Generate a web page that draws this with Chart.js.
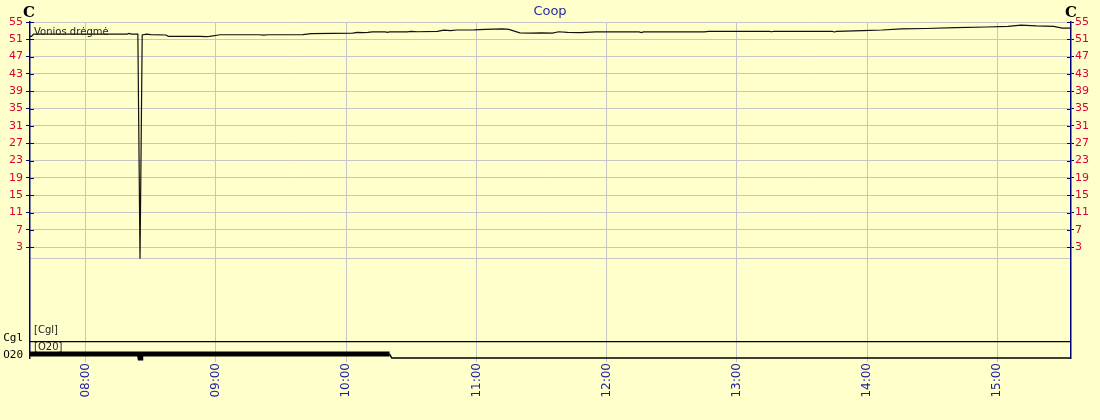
<!DOCTYPE html>
<html lang="lt">
<head>
<meta charset="UTF-8">
<title>Coop</title>
<script src="https://cdn.jsdelivr.net/npm/chart.js"></script>
<style>
  html, body { margin: 0; padding: 0; background: #ffffcc; }
</style>
</head>
<body>
<canvas id="chart" width="1100" height="420"></canvas>
<script>
// main humidity series (time of day, %)
var times = ['07:34','07:35','07:36','08:19','08:20','08:21','08:24','08:25','08:26','08:28','08:30','08:37','08:38',
  '08:53','08:55','08:57','09:02','09:20','09:22','09:24','09:40','09:44','10:03','10:05','10:08','10:10','10:12',
  '10:18','10:19','10:20','10:28','10:30','10:33','10:42','10:45','10:48','10:51','10:59','11:04','11:12','11:15',
  '11:20','11:25','11:30','11:35','11:38','11:42','11:48','11:55','12:15','12:16','12:17','12:45','12:47','13:15',
  '13:16','13:17','13:44','13:45','13:46','13:58','14:07','14:16','14:27','14:41','14:55','15:05','15:11','15:18',
  '15:26','15:30','15:35'];
var humidity = [51.7,51.7,52.2,52.2,52.35,52.2,52.2,0.3,52.0,52.2,52.1,52.0,51.7,
  51.7,51.6,51.7,52.05,52.05,51.95,52.05,52.1,52.3,52.45,52.6,52.55,52.6,52.7,
  52.7,52.6,52.7,52.7,52.85,52.75,52.85,53.1,53.0,53.15,53.2,53.3,53.4,53.3,
  52.5,52.45,52.5,52.45,52.75,52.6,52.55,52.7,52.7,52.55,52.7,52.7,52.85,52.85,
  52.75,52.85,52.85,52.7,52.85,53.0,53.15,53.4,53.5,53.7,53.85,54.0,54.3,54.1,
  54.0,53.6,53.6];
var seriesName = 'Vonios drėgmė';

// digital channels (1 = on, 0 = off)
var laneNames = ['Cgl', 'O20'];
var cglTimes = ['07:34', '15:35'];
var cglState = [0, 0];
var o20Times = ['07:34', '08:24:40', '08:25', '08:25:20', '10:20', '10:21', '15:35'];
var o20State = [1, 1, 0, 1, 1, 0, 0];

var hourTicks = ['08:00','09:00','10:00','11:00','12:00','13:00','14:00','15:00'];
var yTicks = [55, 51, 47, 43, 39, 35, 31, 27, 23, 19, 15, 11, 7, 3];

function toMin(s) {
  var p = s.split(':');
  return +p[0] * 60 + +p[1] + (p[2] ? +p[2] / 60 : 0);
}
function fmt(m) {
  var h = Math.floor(m / 60), mm = Math.round(m % 60);
  return (h < 10 ? '0' : '') + h + ':' + (mm < 10 ? '0' : '') + mm;
}

// lanes live under the humidity range on the same axis
var Y_MIN = -22.6, Y_MAX = 55, SEP = 0.4;
var laneBase = { Cgl: -18.8, O20: -22.6 };
var laneOn = 0.9;
var laneLabelAt = { Cgl: -18.1, O20: -21.9 };

function lanePoints(ts, st, name) {
  return ts.map(function (t, i) {
    return { x: toMin(t), y: laneBase[name] + (st[i] ? laneOn : 0) };
  });
}
function laneTick(v) {
  for (var k in laneLabelAt) if (Math.abs(laneLabelAt[k] - v) < 1e-6) return k;
  return null;
}
function tickVal(c) { return c && c.tick ? c.tick.value : null; }

// "on" stretches are drawn thick; a lone off sample inside an on stretch stays thick (a notch)
function o20Thick(i0, i1) {
  var a = o20State[i0], b = o20State[i1];
  if (a && b) return true;
  if (!a && !b) return false;
  var off = a ? i1 : i0;
  return !!(o20State[off - 1] && o20State[off + 1]);
}

var RED = '#dc0034', NAVY = '#000080', GRID = '#c6c6c6';

var decor = {
  id: 'decor',
  beforeDraw: function (chart) {
    var c = chart.ctx;
    c.save();
    c.fillStyle = '#ffffcc';
    c.fillRect(0, 0, chart.width, chart.height);
    c.restore();
  },
  afterDraw: function (chart) {
    var c = chart.ctx, a = chart.chartArea, y = chart.scales.y;
    c.save();
    // short inward tick marks
    c.strokeStyle = NAVY;
    c.lineWidth = 1;
    yTicks.forEach(function (v) {
      var py = Math.round(y.getPixelForValue(v)) + 0.5;
      c.beginPath();
      c.moveTo(a.left, py); c.lineTo(a.left + 4, py);
      c.moveTo(a.right - 4, py); c.lineTo(a.right, py);
      c.stroke();
    });
    c.fillStyle = '#000';
    c.font = 'bold 15px "DejaVu Serif"';
    c.textAlign = 'center';
    c.textBaseline = 'middle';
    c.fillText('C', a.left - 1, 13);
    c.fillText('C', a.right, 13);
    c.font = '10px "DejaVu Sans"';
    c.textAlign = 'left';
    c.fillStyle = '#222';
    c.fillText(seriesName, a.left + 4, a.top + 10);
    c.fillText('[' + laneNames[0] + ']', a.left + 4, y.getPixelForValue(laneBase.Cgl) - 11);
    c.fillText('[' + laneNames[1] + ']', a.left + 4, y.getPixelForValue(laneBase.O20 + laneOn) - 7);
    c.restore();
  }
};

var ctx = document.getElementById('chart').getContext('2d');
new Chart(ctx, {
  type: 'line',
  data: {
    datasets: [{
      label: seriesName,
      data: times.map(function (t, i) { return { x: toMin(t), y: humidity[i] }; }),
      borderColor: '#111',
      borderWidth: 1.2,
      pointRadius: 0
    }, {
      label: laneNames[0],
      data: lanePoints(cglTimes, cglState, 'Cgl'),
      borderColor: '#000',
      borderWidth: 1.3,
      pointRadius: 0,
      clip: { left: 0, top: 0, right: 0, bottom: 4 }
    }, {
      label: laneNames[1],
      data: lanePoints(o20Times, o20State, 'O20'),
      borderColor: '#000',
      borderWidth: 1.5,
      pointRadius: 0,
      borderCapStyle: 'butt',
      clip: { left: 0, top: 0, right: 0, bottom: 4 },
      segment: {
        borderWidth: function (s) { return o20Thick(s.p0DataIndex, s.p1DataIndex) ? 5 : 1.5; }
      }
    }]
  },
  options: {
    responsive: false,
    animation: false,
    devicePixelRatio: 1,
    layout: { padding: 0 },
    plugins: {
      legend: { display: false },
      tooltip: { enabled: false },
      title: {
        display: true,
        text: 'Coop',
        color: '#2a2aa0',
        font: { family: 'DejaVu Sans', size: 13, weight: 'normal' },
        padding: { top: 4, bottom: 2.4 }
      }
    },
    scales: {
      x: {
        type: 'linear',
        min: 454.3,
        max: 934,
        afterBuildTicks: function (s) { s.ticks = hourTicks.map(function (t) { return { value: toMin(t) }; }); },
        afterFit: function (s) { s.height = 62; },
        ticks: {
          callback: function (v) { return fmt(v); },
          color: '#1c1ca0',
          font: { family: 'DejaVu Sans', size: 12 },
          minRotation: 90,
          maxRotation: 90,
          autoSkip: false,
          padding: 1
        },
        grid: { color: GRID, tickColor: GRID, tickLength: 4 },
        border: { display: false }
      },
      y: {
        position: 'left',
        min: Y_MIN,
        max: Y_MAX,
        afterBuildTicks: function (s) {
          var t = yTicks.map(function (v) { return { value: v }; });
          t.push({ value: SEP });
          t.push({ value: laneLabelAt.Cgl }, { value: laneLabelAt.O20 });
          s.ticks = t;
        },
        afterFit: function (s) { s.width = 30; },
        ticks: {
          autoSkip: false,
          padding: 3,
          callback: function (v) {
            var l = laneTick(v);
            if (l) return l;
            return yTicks.indexOf(v) >= 0 ? String(v) : '';
          },
          color: function (c) { return laneTick(tickVal(c)) ? '#000' : RED; },
          font: function (c) {
            return laneTick(tickVal(c)) ? { family: 'DejaVu Sans Mono', size: 11 } : { family: 'DejaVu Sans', size: 11 };
          }
        },
        grid: {
          color: function (c) { return laneTick(tickVal(c)) ? 'rgba(0,0,0,0)' : GRID; },
          tickColor: function (c) { return yTicks.indexOf(tickVal(c)) >= 0 ? NAVY : 'rgba(0,0,0,0)'; },
          tickLength: 4
        },
        border: { color: NAVY, width: 1.5 }
      },
      yR: {
        position: 'right',
        min: Y_MIN,
        max: Y_MAX,
        afterBuildTicks: function (s) { s.ticks = yTicks.map(function (v) { return { value: v }; }); },
        afterFit: function (s) { s.width = 29; },
        ticks: {
          autoSkip: false,
          padding: 1,
          color: RED,
          font: { family: 'DejaVu Sans', size: 11 }
        },
        grid: { drawOnChartArea: false, tickColor: NAVY, tickLength: 3 },
        border: { color: NAVY, width: 1.5 }
      }
    }
  },
  plugins: [decor]
});
</script>
</body>
</html>
